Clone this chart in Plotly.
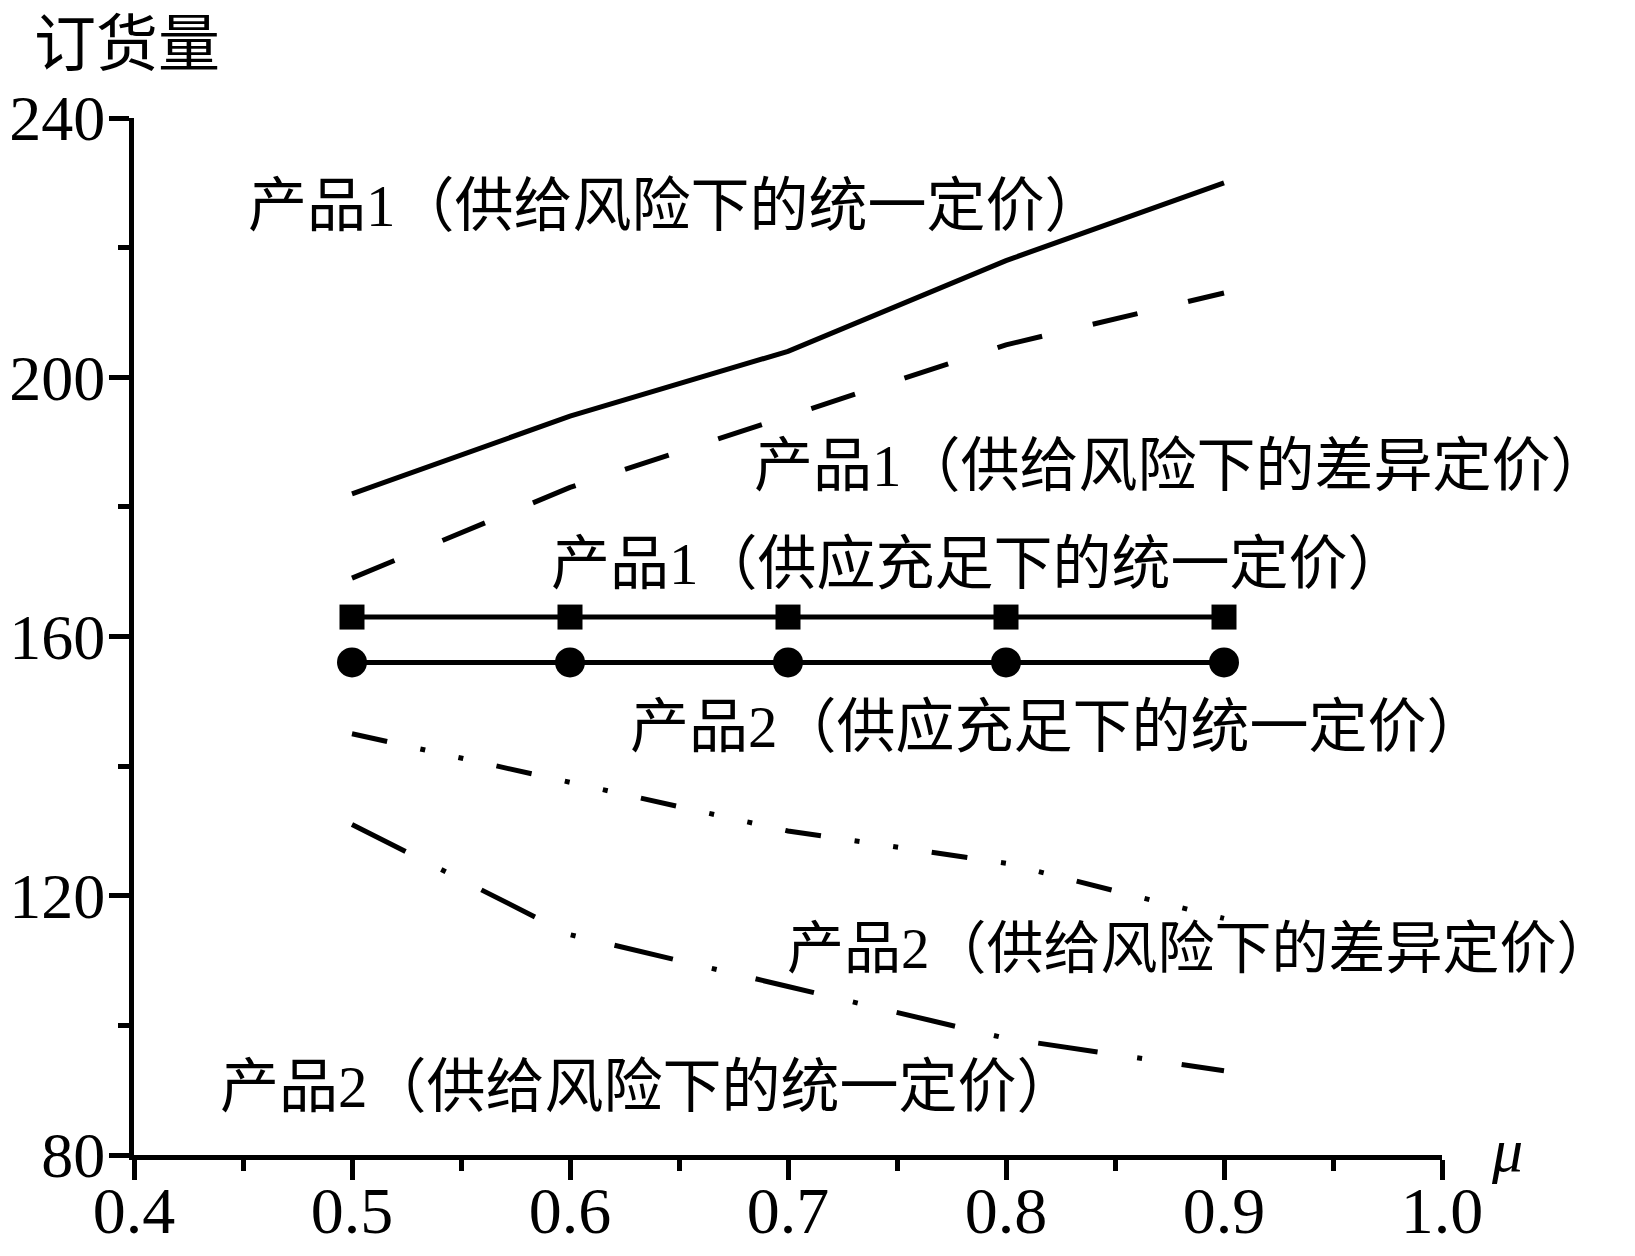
import plotly.graph_objects as go

mu = [0.5, 0.6, 0.7, 0.8, 0.9]
p1_risk_uniform = [182, 194, 204, 218, 230]
p1_risk_diff = [169, 183, 194, 205, 213]
p1_ample_uniform = [163, 163, 163, 163, 163]
p2_ample_uniform = [156, 156, 156, 156, 156]
p2_risk_diff = [145, 137.5, 130, 125, 116.5]
p2_risk_uniform = [131, 114, 106, 98, 93]

labels = [
    "产品1（供给风险下的统一定价）",
    "产品1（供给风险下的差异定价）",
    "产品1（供应充足下的统一定价）",
    "产品2（供应充足下的统一定价）",
    "产品2（供给风险下的差异定价）",
    "产品2（供给风险下的统一定价）",
]
label_x = [0.452, 0.684, 0.591, 0.627, 0.699, 0.439]
label_y = [226.5, 186.3, 171.2, 146.1, 111.8, 90.5]
label_size = [59, 59, 59, 59, 57, 59]

x_ticks = [0.4, 0.5, 0.6, 0.7, 0.8, 0.9, 1.0]
x_tick_text = ["0.4", "0.5", "0.6", "0.7", "0.8", "0.9", "1.0"]
y_ticks = [80, 120, 160, 200, 240]

FONT = "Liberation Serif, Noto Sans CJK SC, serif"

fig = go.Figure()
fig.add_trace(go.Scatter(x=mu, y=p1_risk_uniform, mode="lines",
                         line=dict(color="black", width=5)))
fig.add_trace(go.Scatter(x=mu, y=p1_risk_diff, mode="lines",
                         line=dict(color="black", width=5, dash="46px,52px")))
fig.add_trace(go.Scatter(x=mu, y=p1_ample_uniform, mode="lines+markers",
                         line=dict(color="black", width=5),
                         marker=dict(symbol="square", size=25, color="black")))
fig.add_trace(go.Scatter(x=mu, y=p2_ample_uniform, mode="lines+markers",
                         line=dict(color="black", width=5),
                         marker=dict(symbol="circle", size=30, color="black")))
fig.add_trace(go.Scatter(x=mu, y=p2_risk_diff, mode="lines",
                         line=dict(color="black", width=5,
                                   dash="36px,34px,5px,34px,5px,34px")))
fig.add_trace(go.Scatter(x=mu, y=p2_risk_uniform, mode="lines",
                         line=dict(color="black", width=5,
                                   dash="60px,40px,5px,40px")))

for t, lx, ly, ls in zip(labels, label_x, label_y, label_size):
    fig.add_annotation(x=lx, y=ly, xref="x", yref="y", text=t, showarrow=False,
                       xanchor="left", yanchor="middle", borderpad=0,
                       font=dict(family=FONT, size=ls, color="black"))

fig.add_annotation(x=-0.077, y=1.070, xref="paper", yref="paper", text="订货量",
                   showarrow=False, xanchor="left", yanchor="middle", borderpad=0,
                   font=dict(family=FONT, size=62, color="black"))
fig.add_annotation(x=1.036, y=0.005, xref="paper", yref="paper", text="<i>μ</i>",
                   showarrow=False, xanchor="left", yanchor="middle",
                   font=dict(family="Liberation Serif, serif", size=62, color="black"))

fig.update_layout(
    width=1635, height=1256,
    margin=dict(l=126, r=201, t=110, b=109, autoexpand=False),
    plot_bgcolor="white", paper_bgcolor="white",
    showlegend=False,
    font=dict(family=FONT, color="black"),
)
fig.update_xaxes(range=[0.4, 1.0], tickvals=x_ticks, ticktext=x_tick_text,
                 automargin=False, ticklabelstandoff=-26,
                 showline=True, linecolor="black", linewidth=5,
                 ticks="outside", ticklen=20, tickwidth=5, tickcolor="black",
                 minor=dict(dtick=0.05, ticks="outside", ticklen=11, tickwidth=5,
                            tickcolor="black", showgrid=False),
                 showgrid=False, zeroline=False,
                 tickfont=dict(family="Liberation Serif, serif", size=66, color="black"))
fig.update_yaxes(range=[80, 240], tickvals=y_ticks,
                 automargin=False, ticklabelstandoff=-9,
                 showline=True, linecolor="black", linewidth=5,
                 ticks="outside", ticklen=20, tickwidth=5, tickcolor="black",
                 minor=dict(dtick=20, ticks="outside", ticklen=11, tickwidth=5,
                            tickcolor="black", showgrid=False),
                 showgrid=False, zeroline=False,
                 tickfont=dict(family="Liberation Serif, serif", size=64, color="black"))

fig.write_html("out.html")
